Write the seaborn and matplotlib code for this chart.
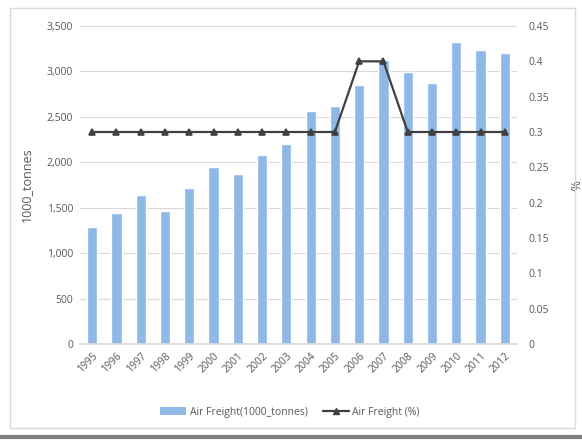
import matplotlib
matplotlib.use("Agg")
import matplotlib.pyplot as plt
import seaborn as sns
import pandas as pd
from matplotlib.lines import Line2D
from matplotlib.patches import Patch, Rectangle

sns.set_theme(style="white")
plt.rcParams["font.family"] = ["Open Sans", "DejaVu Sans"]

years = [str(y) for y in range(1995, 2013)]
freight = [1285, 1437, 1635, 1466, 1712, 1944, 1867, 2080, 2206,
           2564, 2619, 2848, 3126, 2998, 2870, 3328, 3236, 3207]
share = [0.3, 0.3, 0.3, 0.3, 0.3, 0.3, 0.3, 0.3, 0.3,
         0.3, 0.3, 0.4, 0.4, 0.3, 0.3, 0.3, 0.3, 0.3]

df = pd.DataFrame({"Year": years, "Freight": freight, "Share": share})

BAR = "#8eb8e5"
LINE = "#404040"
TXT = "#595959"

fig = plt.figure(figsize=(5.82, 4.41), dpi=100)
ax = fig.add_axes([80 / 582, 1 - 344 / 441, 437 / 582, 318 / 441])

sns.barplot(data=df, x="Year", y="Freight", color=BAR, saturation=1,
            width=0.42, ax=ax)
ax.set_ylim(0, 3500)
ax.set_yticks(range(0, 3501, 500))
ax.set_yticklabels([f"{v:,}" for v in range(0, 3501, 500)])
ax.yaxis.grid(True, color="#d9d9d9", lw=0.8)
ax.set_axisbelow(True)
ax.set_xlabel("")
ax.set_ylabel("1000_tonnes", color=TXT, fontsize=9, labelpad=10)
ax.tick_params(axis="both", colors=TXT, labelsize=7.5, length=0, pad=5)
for lab in ax.get_xticklabels():
    lab.set_rotation(45)
    lab.set_ha("right")
    lab.set_rotation_mode("anchor")
for s in ["top", "left", "right"]:
    ax.spines[s].set_visible(False)
ax.spines["bottom"].set_color("#d9d9d9")

ax2 = ax.twinx()
sns.pointplot(data=df, x="Year", y="Share", color=LINE, markers="^",
              markersize=5, linewidth=1.6, ax=ax2)
ax2.set_ylim(0, 0.45)
ax2.set_yticks([i * 0.05 for i in range(10)])
ax2.set_yticklabels(["0", "0.05", "0.1", "0.15", "0.2", "0.25", "0.3",
                     "0.35", "0.4", "0.45"])
ax2.tick_params(axis="y", colors=TXT, labelsize=7.5, length=0, pad=8)
ax2.set_ylabel("%", color=TXT, fontsize=9, rotation=270, labelpad=22)
ax2.set_xlabel("")
for s in ax2.spines.values():
    s.set_visible(False)

handles = [Patch(facecolor=BAR, edgecolor="none"),
           Line2D([0], [0], color=LINE, marker="^", markersize=5, lw=1.6)]
fig.legend(handles, ["Air Freight(1000_tonnes)", "Air Freight (%)"],
           loc="center", bbox_to_anchor=(290 / 582, 1 - 412 / 441), ncol=2,
           frameon=False, fontsize=7.5, labelcolor=TXT, handlelength=2.5,
           columnspacing=1.5, handletextpad=0.3)

fig.patches.append(Rectangle((10 / 582, 1 - 428 / 441), 565 / 582, 420 / 441,
                             transform=fig.transFigure, fill=False,
                             edgecolor="#d9d9d9", lw=1))
fig.add_artist(Line2D([0, 1], [1 - 437 / 441] * 2, transform=fig.transFigure,
                      color="#7f7f7f", lw=3))

fig.savefig("out.png", dpi=100)
